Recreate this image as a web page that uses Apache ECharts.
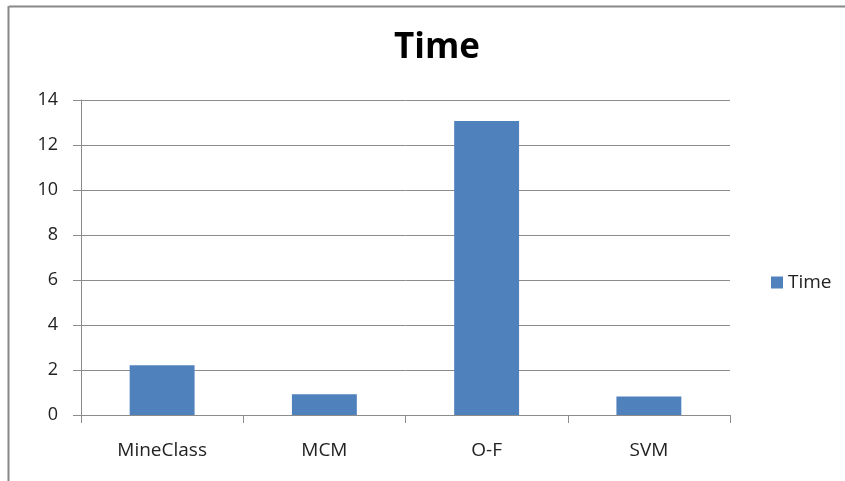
<!DOCTYPE html>
<html>
<head>
<meta charset="utf-8">
<script src="https://cdn.jsdelivr.net/npm/echarts@6/dist/echarts.min.js"></script>
<style>html,body{margin:0;padding:0;background:#fff}#c{width:845px;height:481px}</style>
</head>
<body>
<div id="c"></div>
<script>
const categories = ['MineClass', 'MCM', 'O-F', 'SVM'];
const timeValues = [2.21, 0.92, 13.07, 0.82];
const seriesName = 'Time';
const yTicks = { min: 0, max: 14, interval: 2 };

const chart = echarts.init(document.getElementById('c'));
const font = '"Open Sans", "DejaVu Sans", sans-serif';
chart.setOption({
  animation: false,
  backgroundColor: '#fff',
  title: {
    text: 'Time', left: 432, top: 26, textAlign: 'center',
    textStyle: { fontFamily: font, fontSize: 35, fontWeight: 'bold', color: '#000' }
  },
  legend: {
    data: [seriesName], left: 766, top: 268, icon: 'rect', itemWidth: 12, itemHeight: 12, itemGap: 6,
    textStyle: { fontFamily: font, fontSize: 19, color: '#222' }
  },
  grid: { left: 81, right: 115, top: 100, bottom: 66 },
  xAxis: {
    type: 'category', data: categories,
    axisLine: { lineStyle: { color: '#8c8c8c', width: 1 } },
    axisTick: { show: true, length: 8, lineStyle: { color: '#8c8c8c' } },
    axisLabel: { margin: 26, fontFamily: font, fontSize: 19, color: '#222' }
  },
  yAxis: {
    type: 'value', min: yTicks.min, max: yTicks.max, interval: yTicks.interval,
    axisLine: { show: true, lineStyle: { color: '#8c8c8c', width: 1 } },
    axisTick: { show: true, length: 8, lineStyle: { color: '#8c8c8c' } },
    splitLine: { lineStyle: { color: '#8c8c8c', width: 1 } },
    axisLabel: { margin: 23, fontFamily: font, fontSize: 18, color: '#222' }
  },
  series: [{
    name: seriesName, type: 'bar', data: timeValues, barWidth: '40%',
    itemStyle: { color: '#4F81BD' }
  }],
  graphic: [
    { type: 'line', shape: { x1: 9, y1: 6.5, x2: 845, y2: 6.5 }, style: { stroke: '#888', lineWidth: 2 } },
    { type: 'line', shape: { x1: 8.5, y1: 6, x2: 8.5, y2: 481 }, style: { stroke: '#888', lineWidth: 2 } }
  ]
});
</script>
</body>
</html>
